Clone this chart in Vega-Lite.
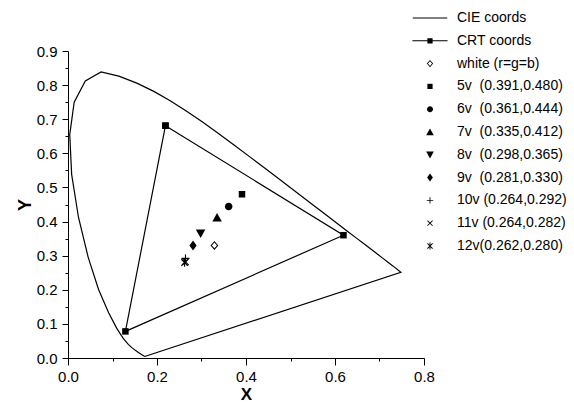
{
  "$schema": "https://vega.github.io/schema/vega-lite/v6.json",
  "width": 356,
  "height": 307,
  "autosize": "none",
  "padding": {"left": 68, "top": 51, "right": 150, "bottom": 45},
  "background": "white",
  "config": {
    "view": {"stroke": null},
    "font": "Liberation Sans",
    "axis": {
      "domainColor": "black", "tickColor": "black", "labelColor": "black", "titleColor": "black",
      "grid": false, "labelFont": "Liberation Sans", "titleFont": "Liberation Sans",
      "labelFontSize": 15, "titleFontSize": 18, "titleFontWeight": "bold",
      "labelOverlap": false, "labelFlush": false, "domainWidth": 1, "tickWidth": 1
    }
  },
  "resolve": {"axis": {"x": "independent", "y": "independent"}},
  "datasets": {
    "locus": [
      {"i": 0, "x": 0.1741, "y": 0.005},
      {"i": 1, "x": 0.1714, "y": 0.0051},
      {"i": 2, "x": 0.1644, "y": 0.0109},
      {"i": 3, "x": 0.1566, "y": 0.0177},
      {"i": 4, "x": 0.144, "y": 0.0297},
      {"i": 5, "x": 0.1355, "y": 0.0399},
      {"i": 6, "x": 0.1241, "y": 0.0578},
      {"i": 7, "x": 0.1096, "y": 0.0868},
      {"i": 8, "x": 0.0913, "y": 0.1327},
      {"i": 9, "x": 0.0687, "y": 0.2007},
      {"i": 10, "x": 0.0454, "y": 0.295},
      {"i": 11, "x": 0.0235, "y": 0.4127},
      {"i": 12, "x": 0.0082, "y": 0.5384},
      {"i": 13, "x": 0.0039, "y": 0.6548},
      {"i": 14, "x": 0.0139, "y": 0.7502},
      {"i": 15, "x": 0.0389, "y": 0.812},
      {"i": 16, "x": 0.0743, "y": 0.8388},
      {"i": 17, "x": 0.1142, "y": 0.8262},
      {"i": 18, "x": 0.1547, "y": 0.8059},
      {"i": 19, "x": 0.1929, "y": 0.7816},
      {"i": 20, "x": 0.2296, "y": 0.7543},
      {"i": 21, "x": 0.2658, "y": 0.7243},
      {"i": 22, "x": 0.3016, "y": 0.6923},
      {"i": 23, "x": 0.3373, "y": 0.6589},
      {"i": 24, "x": 0.3731, "y": 0.6245},
      {"i": 25, "x": 0.4087, "y": 0.5896},
      {"i": 26, "x": 0.4441, "y": 0.5547},
      {"i": 27, "x": 0.4788, "y": 0.5202},
      {"i": 28, "x": 0.5125, "y": 0.4866},
      {"i": 29, "x": 0.5448, "y": 0.4544},
      {"i": 30, "x": 0.5752, "y": 0.4242},
      {"i": 31, "x": 0.6029, "y": 0.3965},
      {"i": 32, "x": 0.627, "y": 0.3725},
      {"i": 33, "x": 0.6482, "y": 0.3514},
      {"i": 34, "x": 0.6658, "y": 0.334},
      {"i": 35, "x": 0.6915, "y": 0.3083},
      {"i": 36, "x": 0.7079, "y": 0.292},
      {"i": 37, "x": 0.719, "y": 0.2809},
      {"i": 38, "x": 0.73, "y": 0.27},
      {"i": 39, "x": 0.748, "y": 0.251},
      {"i": 40, "x": 0.1741, "y": 0.005}
    ],
    "crt": [
      {"i": 0, "x": 0.219, "y": 0.681},
      {"i": 1, "x": 0.619, "y": 0.36},
      {"i": 2, "x": 0.129, "y": 0.078},
      {"i": 3, "x": 0.219, "y": 0.681}
    ],
    "points": [
      {"label": "white (r=g=b)", "x": 0.329, "y": 0.33},
      {"label": "5v \u00a0(0.391,0.480)", "x": 0.391, "y": 0.48},
      {"label": "6v \u00a0(0.361,0.444)", "x": 0.361, "y": 0.444},
      {"label": "7v \u00a0(0.335,0.412)", "x": 0.335, "y": 0.412},
      {"label": "8v \u00a0(0.298,0.365)", "x": 0.298, "y": 0.365},
      {"label": "9v \u00a0(0.281,0.330)", "x": 0.281, "y": 0.33},
      {"label": "10v (0.264,0.292)", "x": 0.264, "y": 0.292},
      {"label": "11v (0.264,0.282)", "x": 0.264, "y": 0.282},
      {"label": "12v(0.262,0.280)", "x": 0.262, "y": 0.28}
    ]
  },
  "layer": [
    {
      "data": {"name": "locus"},
      "mark": {"type": "line", "color": "black", "strokeWidth": 1.2},
      "encoding": {
        "x": {
          "field": "x", "type": "quantitative",
          "scale": {"domain": [0, 0.8], "nice": false, "zero": false},
          "axis": {
            "orient": "bottom",
            "values": [0, 0.2, 0.4, 0.6, 0.8],
            "format": ".1f",
            "tickSize": 7,
            "labelPadding": 4,
            "labelOverlap": false,
            "title": "X",
            "titleFontSize": 17,
            "titlePadding": 2
          }
        },
        "y": {
          "field": "y", "type": "quantitative",
          "scale": {"domain": [0, 0.9], "nice": false, "zero": false},
          "axis": {
            "orient": "left",
            "values": [0, 0.1, 0.2, 0.3, 0.4, 0.5, 0.6, 0.7, 0.8, 0.9],
            "format": ".1f",
            "tickSize": 6,
            "labelPadding": 5,
            "labelOverlap": false,
            "title": "Y",
            "titlePadding": 2
          }
        },
        "order": {"field": "i", "type": "quantitative"}
      }
    },
    {
      "data": {"name": "crt"},
      "mark": {"type": "line", "color": "black", "strokeWidth": 1.2},
      "encoding": {
        "x": {
          "field": "x", "type": "quantitative",
          "axis": {"orient": "bottom", "values": [0.1, 0.3, 0.5, 0.7], "tickSize": 3, "labels": false, "domain": false, "title": null}
        },
        "y": {
          "field": "y", "type": "quantitative",
          "axis": {"orient": "left", "values": [0.05, 0.15, 0.25, 0.35, 0.45, 0.55, 0.65, 0.75, 0.85], "tickSize": 3, "labels": false, "domain": false, "title": null}
        },
        "order": {"field": "i", "type": "quantitative"}
      }
    },
    {
      "data": {"name": "crt"},
      "mark": {"type": "point", "shape": "M-0.65,-0.65H0.65V0.65H-0.65Z", "size": 100, "filled": true, "color": "black", "strokeWidth": 0, "opacity": 1},
      "encoding": {
        "x": {"field": "x", "type": "quantitative", "axis": null},
        "y": {"field": "y", "type": "quantitative", "axis": null}
      }
    },
    {
      "mark": {"type": "rule", "color": "#707070", "strokeWidth": 1},
      "encoding": {"y": {"datum": 0.9, "axis": null}, "x": {"datum": 0, "axis": null}, "x2": {"datum": 0.75}}
    },
    {
      "mark": {"type": "rule", "color": "#707070", "strokeWidth": 1},
      "encoding": {"x": {"datum": 0.8, "axis": null}, "y": {"datum": 0, "axis": null}, "y2": {"datum": 0.105}}
    },
    {
      "data": {"name": "points"},
      "mark": {"type": "point", "size": 100, "filled": true, "color": "black", "strokeWidth": 0, "opacity": 1},
      "encoding": {
        "x": {"field": "x", "type": "quantitative", "axis": null},
        "y": {"field": "y", "type": "quantitative", "axis": null},
        "shape": {
          "field": "label", "type": "nominal",
          "scale": {
            "domain": ["CIE coords", "CRT coords", "white (r=g=b)", "5v \u00a0(0.391,0.480)", "6v \u00a0(0.361,0.444)", "7v \u00a0(0.335,0.412)", "8v \u00a0(0.298,0.365)", "9v \u00a0(0.281,0.330)", "10v (0.264,0.292)", "11v (0.264,0.282)", "12v(0.262,0.280)"],
            "range": [
              "M-4.3,-0.13H4.3V0.13H-4.3Z",
              "M-4.4,-0.13H4.4V0.13H-4.4ZM-0.65,-0.65H0.65V0.65H-0.65Z",
              "M0,-0.9L0.78,0L0,0.9L-0.78,0ZM0,-0.585L-0.507,0L0,0.585L0.507,0Z",
              "M-0.65,-0.65H0.65V0.65H-0.65Z",
              "M-0.75,0A0.75,0.75,0,1,1,0.75,0A0.75,0.75,0,1,1,-0.75,0Z",
              "M0,-0.9L0.95,0.8H-0.95Z",
              "M-0.95,-0.8H0.95L0,0.9Z",
              "M0,-1L0.72,0L0,1L-0.72,0Z",
              "M-0.8,-0.11H0.8V0.11H-0.8ZM-0.11,-0.8H0.11V0.8H-0.11Z",
              "M-0.572,-0.728L0.728,0.572L0.572,0.728L-0.728,-0.572ZM-0.572,0.728L-0.728,0.572L0.572,-0.728L0.728,-0.572Z",
              "M-0.11,-0.85H0.11V0.85H-0.11ZM-0.572,-0.728L0.728,0.572L0.572,0.728L-0.728,-0.572ZM-0.572,0.728L-0.728,0.572L0.572,-0.728L0.728,-0.572Z"
            ]
          },
          "legend": {
            "orient": "none", "legendX": 355, "legendY": -40, "title": null,
            "labelFontSize": 14, "labelFont": "Liberation Sans", "labelColor": "black",
            "labelOffset": 20, "rowPadding": 8.8, "symbolSize": 64,
            "symbolFillColor": "black", "symbolStrokeWidth": 0,
            "symbolOpacity": 1, "padding": 0, "labelLimit": 300
          }
        }
      }
    }
  ]
}
